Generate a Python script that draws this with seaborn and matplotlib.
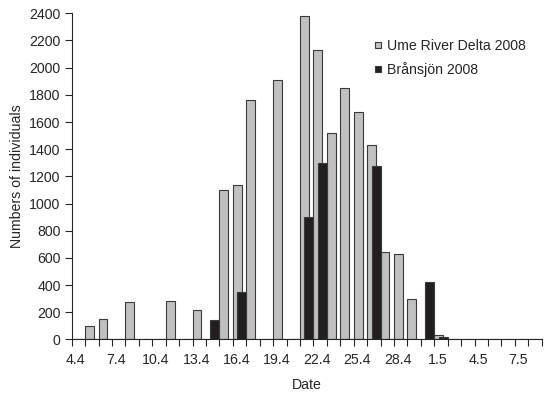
import matplotlib
matplotlib.use("Agg")
import matplotlib.pyplot as plt
import matplotlib.transforms as mtransforms
import seaborn as sns
import pandas as pd
import numpy as np

# daily counts, 4 April - 8 May 2008
dates = ["4.4", "5.4", "6.4", "7.4", "8.4", "9.4", "10.4", "11.4", "12.4",
         "13.4", "14.4", "15.4", "16.4", "17.4", "18.4", "19.4", "20.4",
         "21.4", "22.4", "23.4", "24.4", "25.4", "26.4", "27.4", "28.4",
         "29.4", "30.4", "1.5", "2.5", "3.5", "4.5", "5.5", "6.5", "7.5", "8.5"]
ume = [0, 100, 150, 0, 275, 0, 0, 285, 0, 215, 0, 1100, 1140, 1760, 0, 1910,
       0, 2380, 2130, 1520, 1850, 1670, 1430, 640, 630, 300, 0, 35,
       0, 0, 0, 0, 0, 0, 0]
bransjon = [0, 0, 0, 0, 0, 0, 0, 0, 0, 0, 140, 0, 350, 0, 0, 0,
            0, 900, 1300, 0, 0, 0, 1280, 0, 0, 0, 420, 20,
            0, 0, 0, 0, 0, 0, 0]
series_names = ["Ume River Delta 2008", "Brånsjön 2008"]

sns.set_style("ticks")
plt.rcParams["font.family"] = ["Liberation Sans", "DejaVu Sans"]
plt.rcParams["font.size"] = 10.2

df = pd.DataFrame({"Date": dates, series_names[0]: ume, series_names[1]: bransjon})
long = df.melt(id_vars="Date", var_name="site", value_name="n")

fig = plt.figure(figsize=(5.51, 4.0), dpi=100)
ax = fig.add_axes([0.1301, 0.1513, 0.853, 0.8155])

sns.barplot(data=long, x="Date", y="n", hue="site", hue_order=series_names,
            order=dates, dodge=False, width=2 / 3, errorbar=None,
            palette=["#c0c0c0", "#231f20"], edgecolor="#3a3a3a",
            linewidth=0.8, saturation=1, ax=ax)

# excel-style overlap: grey on the left, black on the right of each day
for cont, off in zip(ax.containers, [-1 / 6, 1 / 6]):
    for p in cont.patches:
        p.set_x(p.get_x() + off)

ax.set_xlim(-0.5, len(dates) - 0.5)
ax.set_ylim(0, 2400)
ax.set_yticks(range(0, 2401, 200))
ax.set_xticks(range(0, len(dates), 3))
ax.set_xticklabels(dates[::3])
ax.set_xticks(np.arange(-0.5, len(dates), 1), minor=True)
ax.tick_params(axis="x", which="major", length=0, pad=10)
ax.tick_params(axis="x", which="minor", length=5, width=0.8, direction="out")
ax.tick_params(axis="y", length=5, width=0.8, direction="out", pad=3)
for s in ["left", "bottom"]:
    ax.spines[s].set_linewidth(0.8)
sns.despine(ax=ax)

# date labels sit a little left of the day centre in the original
shift = mtransforms.ScaledTranslation(-3 / 100, 0, fig.dpi_scale_trans)
for lab in ax.get_xticklabels():
    lab.set_transform(lab.get_transform() + shift)

ax.set_xlabel("Date", labelpad=8)
ax.set_ylabel("Numbers of individuals", labelpad=4)

handles, labels = ax.get_legend_handles_labels()
ax.legend(handles, labels, loc="upper left", bbox_to_anchor=(0.645, 0.92),
          frameon=False, borderpad=0, borderaxespad=0, handlelength=0.4,
          handleheight=0.3, handletextpad=0.45, labelspacing=0.6)

fig.savefig("out.png", dpi=100)
